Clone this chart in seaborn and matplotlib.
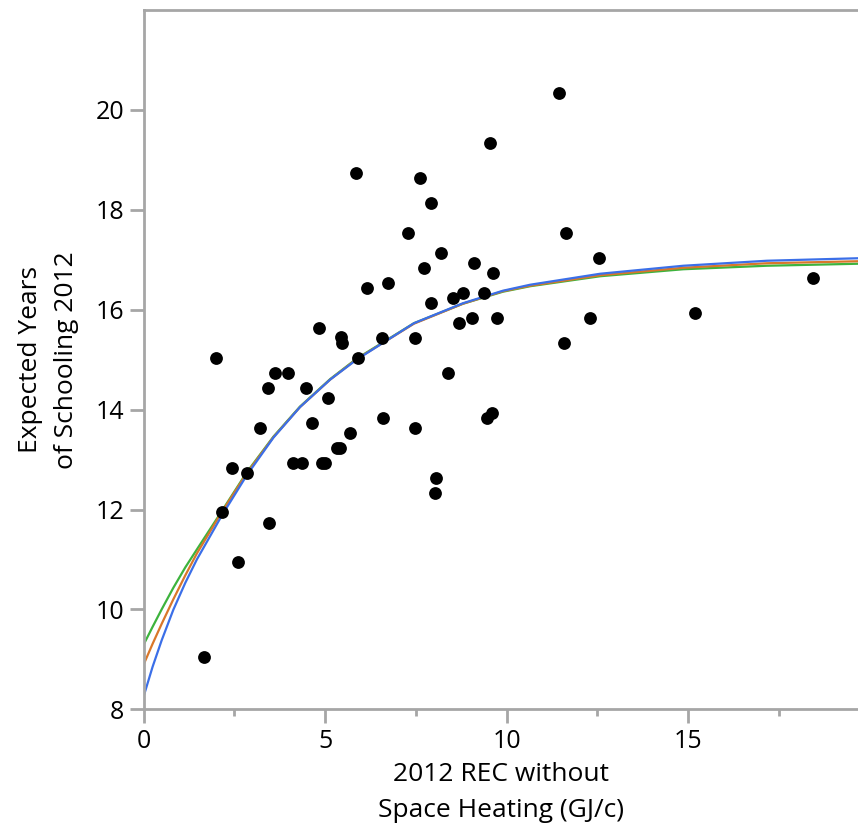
import numpy as np
import pandas as pd
import matplotlib
matplotlib.use("Agg")
import matplotlib.pyplot as plt
import seaborn as sns
from matplotlib.ticker import MultipleLocator, FixedLocator

# scatter data: energy (GJ/capita) vs expected years of schooling
rec = [1.67, 1.99, 2.17, 2.45, 2.60, 2.84, 3.20, 3.43, 3.45, 3.62,
       3.98, 4.13, 4.36, 4.47, 4.64, 4.83, 4.91, 5.00, 5.08, 5.32,
       5.42, 5.44, 5.46, 5.68, 5.85, 5.90, 6.15, 6.56, 6.61, 6.73,
       7.29, 7.48, 7.48, 7.62, 7.73, 7.91, 7.91, 8.03, 8.07, 8.19,
       8.40, 8.53, 8.70, 8.79, 9.06, 9.11, 9.38, 9.45, 9.54, 9.61,
       9.64, 9.73, 11.45, 11.58, 11.63, 12.30, 12.54, 15.20, 18.43]
school = [9.04, 15.04, 11.95, 12.83, 10.94, 12.73, 13.64, 14.44, 11.73, 14.74,
          14.74, 12.93, 12.93, 14.43, 13.73, 15.64, 12.93, 12.93, 14.23, 13.23,
          13.23, 15.45, 15.33, 13.53, 18.73, 15.03, 16.43, 15.43, 13.83, 16.53,
          17.53, 15.43, 13.63, 18.63, 16.83, 18.13, 16.13, 12.33, 12.63, 17.13,
          14.73, 16.23, 15.73, 16.33, 15.83, 16.93, 16.33, 13.83, 19.33, 13.93,
          16.73, 15.83, 20.34, 15.34, 17.54, 15.84, 17.04, 15.94, 16.64]

# fitted curves
fit_x = [0, 0.25, 0.5, 0.82, 1.15, 1.47, 2.15, 2.84, 3.58, 4.31,
         5.14, 5.87, 7.45, 8.8, 9.9, 10.65, 12.58, 14.87, 17.17, 19.68]
fit_blue = [8.25, 8.85, 9.38, 9.99, 10.53, 11.0, 11.87, 12.68, 13.44, 14.05,
            14.6, 15.0, 15.73, 16.13, 16.38, 16.5, 16.72, 16.88, 16.98, 17.03]
fit_orange = [8.89, 9.31, 9.71, 10.2, 10.68, 11.12, 11.94, 12.72, 13.45, 14.05,
              14.6, 15.01, 15.72, 16.12, 16.37, 16.48, 16.69, 16.84, 16.93, 16.97]
fit_green = [9.29, 9.65, 10.0, 10.43, 10.84, 11.2, 11.96, 12.74, 13.46, 14.06,
             14.61, 15.02, 15.73, 16.12, 16.36, 16.47, 16.67, 16.81, 16.88, 16.92]

y_ticks = [8, 10, 12, 14, 16, 18, 20]

sns.set_style("white")
plt.rcParams['font.family'] = ['Open Sans', 'DejaVu Sans']

df = pd.DataFrame({"x": rec, "y": school})

fig = plt.figure(figsize=(8.58, 8.30), dpi=100)
ax = fig.add_axes([143.5/858, 120.7/830, 714.5/858, 699.3/830])

sns.scatterplot(x="x", y="y", data=df, ax=ax, color="black", s=85,
                edgecolor="black", linewidth=0, zorder=3)
for ys, c in [(fit_green, "#3db33d"), (fit_orange, "#d9772a"), (fit_blue, "#3b6fe8")]:
    sns.lineplot(x=fit_x, y=ys, ax=ax, color=c, lw=1.6, sort=False, zorder=2)

ax.set_xlim(0, 19.68)
ax.set_ylim(8, 22)
ax.xaxis.set_major_locator(MultipleLocator(5))
ax.xaxis.set_minor_locator(MultipleLocator(2.5))
ax.yaxis.set_major_locator(FixedLocator(y_ticks))

for s in ["left", "bottom", "top"]:
    ax.spines[s].set_color("#a6a6a6")
    ax.spines[s].set_linewidth(2)
ax.spines["right"].set_visible(False)

ax.tick_params(axis="both", which="major", length=10, width=2, color="#a6a6a6",
               labelsize=18, labelcolor="black", pad=4, direction="out",
               bottom=True, left=True)
ax.tick_params(axis="x", which="minor", length=5, width=2, color="#a6a6a6", bottom=True)

ax.set_xlabel("2012 REC without\nSpace Heating (GJ/c)", fontsize=19, labelpad=6,
              linespacing=1.55, color="black")
ax.set_ylabel("Expected Years\nof Schooling 2012", fontsize=19, labelpad=12,
              linespacing=1.55, color="black")

fig.savefig("out.png", dpi=100)
